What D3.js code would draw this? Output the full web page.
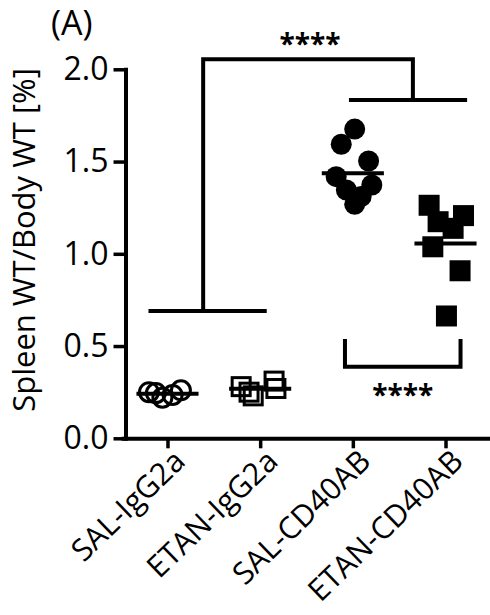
<!DOCTYPE html>
<html>
<head>
<meta charset="utf-8">
<script src="https://cdn.jsdelivr.net/npm/d3@7"></script>
<style>
  body { margin: 0; background: #fff; }
  svg { display: block; font-family: "Open Sans", sans-serif; }
</style>
</head>
<body>
<div id="chart"></div>
<script>
// groups on the x axis
const categories = ["SAL-IgG2a", "ETAN-IgG2a", "SAL-CD40AB", "ETAN-CD40AB"];
const yTicks = [0, 0.5, 1.0, 1.5, 2.0];

// spleen / body weight ratio [%] per animal
const salIgg = [0.25, 0.22, 0.235, 0.26, 0.245];
const etanIgg = [0.28, 0.23, 0.31, 0.27, 0.25];
const salCd40 = [1.676, 1.594, 1.503, 1.418, 1.373, 1.346, 1.310, 1.268];
const etanCd40 = [1.263, 1.207, 1.174, 1.138, 1.038, 0.908, 0.663];

// horizontal scatter of each point, as a fraction of the group spacing
const salIggJitter = [-0.2, -0.055, 0.055, 0.145, -0.125];
const etanIggJitter = [-0.205, -0.075, 0.15, 0.17, -0.12];
const salCd40Jitter = [0.02, -0.125, 0.17, -0.18, 0.205, -0.07, 0.09, 0.02];
const etanCd40Jitter = [-0.177, 0.194, -0.08, 0.082, -0.137, 0.157, 0.01];

// significance brackets: group positions (0..3) and heights in y units
const bracketLow = {x0: -0.205, x1: 1.071, y: 0.69};
const bracketHigh = {x0: 1.958, x1: 3.233, y: 1.834};
const bracketTop = {x0: 0.385, x1: 2.648, y: 2.055, label: "****"};
const bracketCd40 = {x0: 1.915, x1: 3.162, yTop: 0.538, yBottom: 0.388, label: "****"};

const groups = [
    {name: categories[0], values: salIgg, jitter: salIggJitter, shape: "circle", filled: false},
    {name: categories[1], values: etanIgg, jitter: etanIggJitter, shape: "square", filled: false},
    {name: categories[2], values: salCd40, jitter: salCd40Jitter, shape: "circle", filled: true},
    {name: categories[3], values: etanCd40, jitter: etanCd40Jitter, shape: "square", filled: true}
];

const width = 490, height = 615;
const lw = 4;

const svg = d3.select("#chart").append("svg")
    .attr("width", width)
    .attr("height", height);

const x = d3.scalePoint()
    .domain(categories)
    .range([123, 490])
    .padding(0.48);

// continuous version of x for jitter and brackets
const xPos = d3.scaleLinear()
    .domain([0, categories.length - 1])
    .range([x(categories[0]), x(categories[categories.length - 1])]);

const y = d3.scaleLinear()
    .domain([0, 2])
    .range([438.3, 69.3]);

// y axis
const yAxisGroup = svg.append("g")
    .attr("transform", "translate(125.5,0)")
    .call(d3.axisLeft(y).tickValues(yTicks).tickFormat(d3.format(".1f")).tickSize(12).tickSizeOuter(0).tickPadding(5));

// x axis
const xAxisGroup = svg.append("g")
    .attr("transform", `translate(0,${y(0)})`)
    .call(d3.axisBottom(x).tickSize(10).tickSizeOuter(0).tickFormat(""));

svg.selectAll(".domain").attr("stroke", "#000").attr("stroke-width", lw).attr("stroke-linecap", "square");
svg.selectAll(".tick line").attr("stroke", "#000").attr("stroke-width", 3.5);
yAxisGroup.selectAll(".tick text")
    .attr("font-family", "Open Sans")
    .attr("font-size", 32)
    .attr("fill", "#000");

// rotated category labels
xAxisGroup.selectAll(".tick").append("text")
    .attr("transform", "translate(19,25) rotate(-44)")
    .attr("text-anchor", "end")
    .attr("font-family", "Open Sans")
    .attr("font-size", 30.5)
    .attr("fill", "#000")
    .text(d => d);

// y axis title
svg.append("text")
    .attr("transform", "translate(35,240) rotate(-90)")
    .attr("text-anchor", "middle")
    .attr("font-size", 31)
    .text("Spleen WT/Body WT [%]");

// panel letter
svg.append("text")
    .attr("x", 51)
    .attr("y", 35)
    .attr("font-size", 34)
    .text("(A)");

// points
const step = x.step();
groups.forEach((g, gi) => {
    const pts = g.values.map((v, i) => ({v: v, cx: x(g.name) + g.jitter[i] * step}));
    const layer = svg.append("g");
    if (g.shape === "circle") {
        layer.selectAll("circle")
            .data(pts)
            .enter().append("circle")
            .attr("cx", d => d.cx)
            .attr("cy", d => y(d.v))
            .attr("r", g.filled ? 10.5 : 9.5)
            .attr("fill", g.filled ? "#000" : "none")
            .attr("stroke", "#000")
            .attr("stroke-width", g.filled ? 0 : 3);
    } else {
        const s = g.filled ? 21 : 18;
        layer.selectAll("rect")
            .data(pts)
            .enter().append("rect")
            .attr("x", d => d.cx - s / 2)
            .attr("y", d => y(d.v) - s / 2)
            .attr("width", s)
            .attr("height", s)
            .attr("fill", g.filled ? "#000" : "none")
            .attr("stroke", "#000")
            .attr("stroke-width", g.filled ? 0 : 3);
    }
    // mean line
    const m = d3.mean(g.values);
    svg.append("line")
        .attr("x1", x(g.name) - 0.335 * step)
        .attr("x2", x(g.name) + 0.335 * step)
        .attr("y1", y(m))
        .attr("y2", y(m))
        .attr("stroke", "#000")
        .attr("stroke-width", lw);
});

// brackets
const lineGen = d3.line().x(d => xPos(d[0])).y(d => y(d[1]));
const bracketPaths = [
    [[bracketLow.x0, bracketLow.y], [bracketLow.x1, bracketLow.y]],
    [[bracketHigh.x0, bracketHigh.y], [bracketHigh.x1, bracketHigh.y]],
    [[bracketTop.x0, bracketLow.y], [bracketTop.x0, bracketTop.y], [bracketTop.x1, bracketTop.y], [bracketTop.x1, bracketHigh.y]],
    [[bracketCd40.x0, bracketCd40.yTop], [bracketCd40.x0, bracketCd40.yBottom], [bracketCd40.x1, bracketCd40.yBottom], [bracketCd40.x1, bracketCd40.yTop]]
];
svg.selectAll(".bracket")
    .data(bracketPaths)
    .enter().append("path")
    .attr("class", "bracket")
    .attr("d", lineGen)
    .attr("fill", "none")
    .attr("stroke", "#000")
    .attr("stroke-width", lw)
    .attr("stroke-linejoin", "miter");

svg.append("text")
    .attr("x", xPos((bracketTop.x0 + bracketTop.x1) / 2) + 2)
    .attr("y", y(bracketTop.y) - 5)
    .attr("text-anchor", "middle")
    .attr("font-size", 28)
    .attr("font-weight", "bold")
    .text(bracketTop.label);

svg.append("text")
    .attr("x", xPos((bracketCd40.x0 + bracketCd40.x1) / 2))
    .attr("y", y(bracketCd40.yBottom) + 38)
    .attr("text-anchor", "middle")
    .attr("font-size", 28)
    .attr("font-weight", "bold")
    .text(bracketCd40.label);
</script>
</body>
</html>
